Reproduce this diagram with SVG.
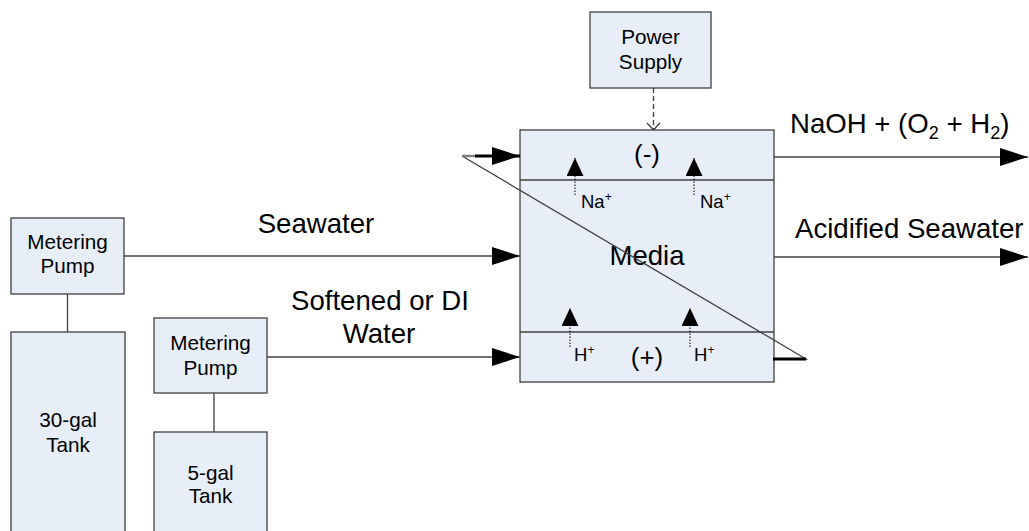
<svg xmlns="http://www.w3.org/2000/svg" width="1029" height="531" viewBox="0 0 1029 531">
<style>
.box{fill:#E8EEF7;stroke:#404040;stroke-width:1.3}
.ln{stroke:#404040;stroke-width:1.3;fill:none}
.t{font-family:"Liberation Sans",Arial,sans-serif;fill:#000}
.s{font-size:20.7px}
.b{font-size:27.6px}
.p{font-size:26px}
.i{font-size:18.5px}
.dot{stroke:#000;stroke-width:1;stroke-dasharray:1.5,1.5}
</style>
<defs>
<marker id="ah" markerUnits="userSpaceOnUse" markerWidth="28" markerHeight="18" refX="28" refY="9" orient="auto" viewBox="0 0 28 18">
<path d="M0,0 L28,9 L0,18 z" fill="#000"/>
</marker>
<marker id="sh" markerUnits="userSpaceOnUse" markerWidth="18" markerHeight="17" refX="18" refY="8.5" orient="auto" viewBox="0 0 18 17">
<path d="M0,0 L18,8.5 L0,17 z" fill="#000"/>
</marker>
</defs>
<rect width="1029" height="531" fill="#fff"/>

<g id="connectors">
<line class="ln" x1="124" y1="256" x2="520" y2="256" marker-end="url(#ah)"/>
<line class="ln" x1="267" y1="357" x2="520" y2="357" marker-end="url(#ah)"/>
<line class="ln" x1="67.5" y1="294" x2="67.5" y2="332"/>
<line class="ln" x1="214" y1="393" x2="214" y2="432"/>
<line class="ln" x1="774" y1="157" x2="1028" y2="157" marker-end="url(#ah)"/>
<line class="ln" x1="774" y1="257" x2="1028" y2="257" marker-end="url(#ah)"/>
<line x1="653.5" y1="88" x2="653.5" y2="129" stroke="#404040" stroke-width="1.3" stroke-dasharray="5,3"/>
<polyline points="647,123 653.5,130 660,123" class="ln"/>
</g>

<g id="media">
<rect class="box" x="520" y="130" width="254" height="252"/>
<line class="ln" x1="520" y1="180" x2="774" y2="180"/>
<line class="ln" x1="520" y1="332" x2="774" y2="332"/>
<text class="t p" x="647" y="163" text-anchor="middle">(-)</text>
<text class="t b" x="647" y="265" text-anchor="middle">Media</text>
<text class="t p" x="647" y="366" text-anchor="middle">(+)</text>
</g>

<g id="ions">
<line class="dot" x1="575" y1="195" x2="575" y2="158" marker-end="url(#sh)"/>
<line class="dot" x1="694" y1="195" x2="694" y2="158" marker-end="url(#sh)"/>
<line class="dot" x1="570" y1="347" x2="570" y2="308" marker-end="url(#sh)"/>
<line class="dot" x1="690" y1="347" x2="690" y2="308" marker-end="url(#sh)"/>
<text class="t i" x="581" y="208">Na<tspan font-size="12" dy="-7">+</tspan></text>
<text class="t i" x="700" y="208">Na<tspan font-size="12" dy="-7">+</tspan></text>
<text class="t i" x="574" y="361">H<tspan font-size="12" dy="-7">+</tspan></text>
<text class="t i" x="694" y="361">H<tspan font-size="12" dy="-7">+</tspan></text>
</g>

<g id="recycle">
<polyline points="462,156 806,359 774,359" class="ln" stroke="#000" stroke-width="1.2"/>
<line x1="773" y1="359" x2="806" y2="359" stroke="#000" stroke-width="3"/>
<line x1="462" y1="156" x2="476" y2="156" stroke="#808080" stroke-width="2.5"/>
<line x1="475" y1="156" x2="520" y2="156" stroke="#000" stroke-width="3" marker-end="url(#ah)"/>
</g>

<g id="power-supply">
<rect class="box" x="590" y="12" width="121" height="76"/>
<text class="t s" x="650.5" y="44" text-anchor="middle">Power</text>
<text class="t s" x="650.5" y="69" text-anchor="middle">Supply</text>
</g>

<g id="pump1">
<rect class="box" x="11" y="218" width="113" height="76"/>
<text class="t s" x="67.5" y="249" text-anchor="middle">Metering</text>
<text class="t s" x="67.5" y="273" text-anchor="middle">Pump</text>
</g>

<g id="tank30">
<rect class="box" x="11" y="332" width="114" height="210"/>
<text class="t s" x="68" y="427" text-anchor="middle">30-gal</text>
<text class="t s" x="68" y="452" text-anchor="middle">Tank</text>
</g>

<g id="pump2">
<rect class="box" x="154" y="318" width="113" height="75"/>
<text class="t s" x="210.5" y="350" text-anchor="middle">Metering</text>
<text class="t s" x="210.5" y="375" text-anchor="middle">Pump</text>
</g>

<g id="tank5">
<rect class="box" x="154" y="432" width="113" height="110"/>
<text class="t s" x="210.5" y="480" text-anchor="middle">5-gal</text>
<text class="t s" x="210.5" y="503" text-anchor="middle">Tank</text>
</g>

<g id="labels">
<text class="t b" x="316" y="233" text-anchor="middle">Seawater</text>
<text class="t b" x="380" y="310" text-anchor="middle">Softened or DI</text>
<text class="t b" x="379" y="343" text-anchor="middle">Water</text>
<text class="t b" x="790" y="133">NaOH + (O<tspan font-size="18" dy="6">2</tspan><tspan dy="-6"> + H</tspan><tspan font-size="18" dy="6">2</tspan><tspan dy="-6">)</tspan></text>
<text class="t b" x="795" y="238">Acidified Seawater</text>
</g>
</svg>
